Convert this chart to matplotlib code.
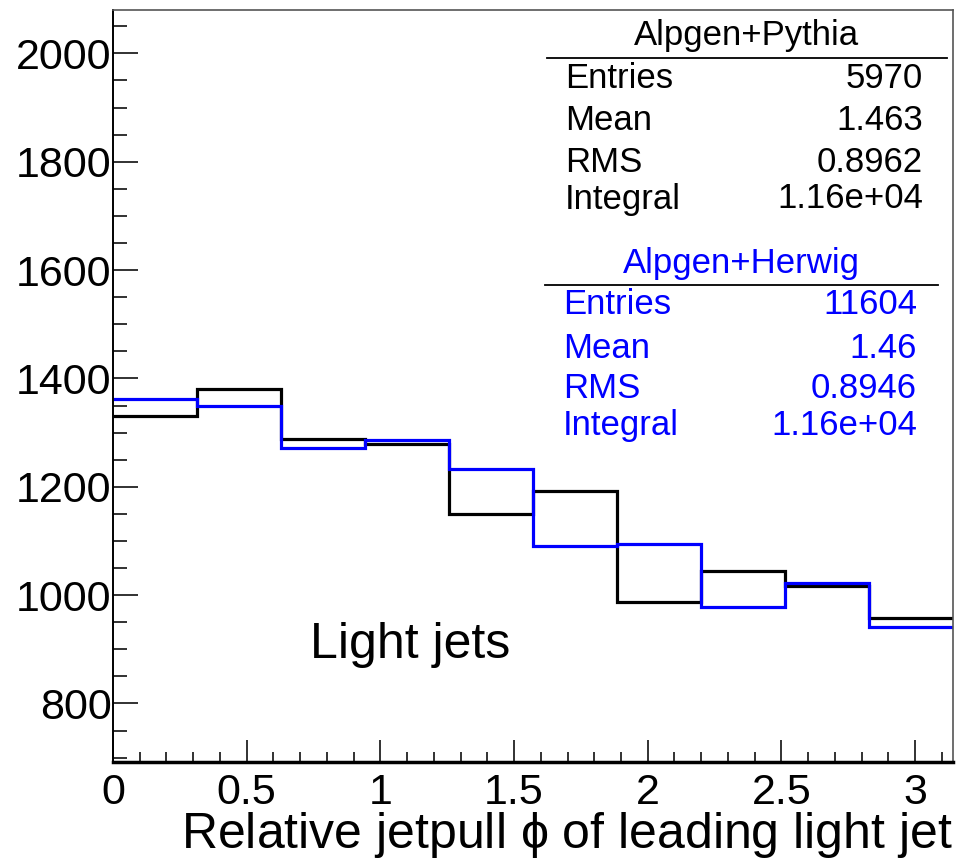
import numpy as np
import matplotlib
matplotlib.use("Agg")
import matplotlib.pyplot as plt
from matplotlib.ticker import MultipleLocator

# bin contents (10 bins from 0 to pi)
pythia = [1330, 1381, 1288, 1279, 1149, 1192, 987, 1044, 1016, 957]
herwig = [1362, 1349, 1271, 1286, 1233, 1090, 1094, 979, 1023, 942]

pythia_stats = [("Entries", "5970"), ("Mean", "1.463"), ("RMS", "0.8962"), ("Integral", "1.16e+04")]
herwig_stats = [("Entries", "11604"), ("Mean", "1.46"), ("RMS", "0.8946"), ("Integral", "1.16e+04")]

xlabel = "Relative jetpull $\\phi$ of leading light jet"

W, H = 957, 861
plt.rcParams['font.family'] = ['Liberation Sans', 'DejaVu Sans']
plt.rcParams['mathtext.fontset'] = 'custom'
plt.rcParams['mathtext.rm'] = 'Liberation Sans'
plt.rcParams['mathtext.it'] = 'Liberation Sans'

fig = plt.figure(figsize=(W / 100, H / 100), dpi=100)

def fx(px):
    return px / W

def fy(py):
    return 1 - py / H

ax = fig.add_axes([fx(113), fy(762), fx(953) - fx(113), fy(10) - fy(762)])

edges = np.linspace(0, np.pi, len(pythia) + 1)
ax.stairs(pythia, edges, color="black", lw=2.3, baseline=None)
ax.stairs(herwig, edges, color="#0000ff", lw=2.3, baseline=None)

ax.set_xlim(0, np.pi)
ax.set_ylim(692, 2080)

ax.xaxis.set_major_locator(MultipleLocator(0.5))
ax.xaxis.set_minor_locator(MultipleLocator(0.1))
ax.yaxis.set_major_locator(MultipleLocator(200))
ax.yaxis.set_minor_locator(MultipleLocator(50))
ax.xaxis.set_major_formatter(matplotlib.ticker.FuncFormatter(lambda v, p: "%g" % v))

ax.tick_params(axis="both", which="both", direction="in", top=False, right=False,
               labelsize=31, width=1.3, color="#222222")
ax.tick_params(axis="x", which="major", length=16, pad=8)
ax.tick_params(axis="x", which="minor", length=7)
ax.tick_params(axis="y", which="major", length=18, pad=1)
ax.tick_params(axis="y", which="minor", length=10)

for s in ["top", "right"]:
    ax.spines[s].set_color("#555555")
    ax.spines[s].set_linewidth(1.2)
ax.spines["left"].set_linewidth(1.4)
ax.spines["bottom"].set_linewidth(2.5)

fig.text(fx(953), fy(848), xlabel, ha="right", va="baseline", fontsize=36)

fig.text(fx(310), fy(658), "Light jets", ha="left", va="baseline", fontsize=36)

# stats boxes
def stats_box(title, rows, color, ytitle, yline, x0, x1, xl, xr, yrows):
    fig.text(fx((x0 + x1) / 2), fy(ytitle), title, ha="center", va="center",
             fontsize=25, color=color)
    fig.add_artist(plt.Line2D([fx(x0), fx(x1)], [fy(yline), fy(yline)],
                              color="black", lw=1.3))
    for (name, val), yy in zip(rows, yrows):
        fig.text(fx(xl), fy(yy), name, ha="left", va="center", fontsize=25, color=color)
        fig.text(fx(xr), fy(yy), val, ha="right", va="center", fontsize=25, color=color)

stats_box("Alpgen+Pythia", pythia_stats, "black", 35, 58, 547, 947, 565, 923,
          [79, 121, 162, 199])
stats_box("Alpgen+Herwig", herwig_stats, "#0000ff", 264, 285, 545, 938, 563, 917,
          [305, 348, 388, 426])

fig.savefig("out.png", dpi=100)
